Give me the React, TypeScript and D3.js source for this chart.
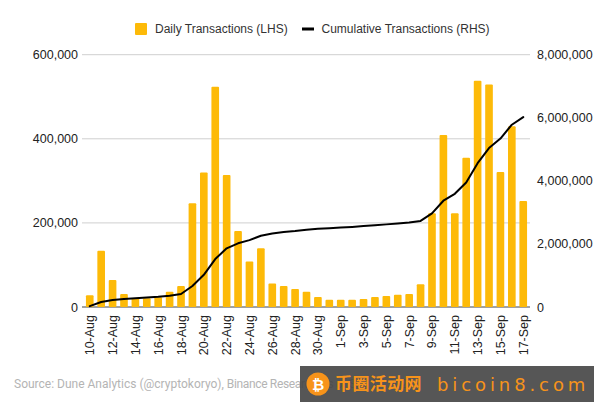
import React from "react";
import * as d3 from "d3";

const augDays = ["10","11","12","13","14","15","16","17","18","19","20","21","22","23","24","25","26","27","28","29","30","31"];
const sepDays = ["1","2","3","4","5","6","7","8","9","10","11","12","13","14","15","16","17"];
const categories = [...augDays.map((d) => `${d}-Aug`), ...sepDays.map((d) => `${d}-Sep`)];

const dailyTransactions = [
  28000, 134000, 64000, 31000, 21000, 21000, 23000, 36000, 50000, 247000, 320000, 524000, 314000,
  181000, 108000, 140000, 56000, 50000, 43000, 36000, 24000, 17000, 17000, 17000, 19000, 24000,
  26000, 29000, 31000, 54000, 223000, 409000, 223000, 355000, 538000, 529000, 321000, 430000, 252000,
];
const cumulativeTransactions = [
  28000, 160000, 222000, 254000, 275000, 300000, 325000, 360000, 413000, 667000, 1020000, 1520000, 1860000,
  2020000, 2120000, 2260000, 2330000, 2380000, 2410000, 2450000, 2480000, 2500000, 2520000, 2540000, 2565000,
  2590000, 2620000, 2650000, 2680000, 2730000, 2970000, 3370000, 3590000, 3950000, 4560000, 5040000, 5340000,
  5780000, 6020000,
];
const leftTicks = [0, 200000, 400000, 600000];
const rightTicks = [0, 2000000, 4000000, 6000000, 8000000];
const legendBar = "Daily Transactions (LHS)";
const legendLine = "Cumulative Transactions (RHS)";
const sourceHead = "Source: Dune Analytics (@cryptokoryo), ";
const sourceTail = "Binance Research, as of Sep 17, 2023";
const brandCn = "币圈活动网";
const brandEn = "bicoin8.com";

const W = 600;
const H = 403;
const plot = { left: 84, right: 529, top: 54.7, bottom: 307 };
const font = "'Liberation Sans', Arial, sans-serif";

export default function App() {
  const x = d3.scaleBand<string>().domain(categories).range([plot.left, plot.right]).paddingInner(0.33).paddingOuter(0.17);
  const yL = d3.scaleLinear().domain([0, 600000]).range([plot.bottom, plot.top]);
  const yR = d3.scaleLinear().domain([0, 8000000]).range([plot.bottom, plot.top]);
  const cx = (c: string) => (x(c) as number) + x.bandwidth() / 2;
  const line = d3
    .line<number>()
    .x((_, i) => cx(categories[i]))
    .y((d) => yR(d));
  const fmt = d3.format(",");

  return (
    <svg
      width={W}
      height={H}
      viewBox={`0 0 ${W} ${H}`}
      style={{ position: "absolute", left: 0, top: 0, background: "#fff" }}
    >
      {/* legend */}
      <rect x={135} y={23} width={12} height={12} rx={1} fill="#FDBA08" />
      <text x={155} y={33} fontFamily={font} fontSize={12} fill="#333">{legendBar}</text>
      <rect x={302} y={27.5} width={12} height={3} fill="#000" />
      <text x={321.5} y={33} fontFamily={font} fontSize={12} fill="#333">{legendLine}</text>

      {/* grid */}
      {leftTicks.map((t) =>
        t === 0 ? null : (
          <line key={t} x1={82} x2={530} y1={yL(t)} y2={yL(t)} stroke="#cfcfcf" strokeWidth={1} />
        )
      )}
      <line x1={82} x2={530} y1={plot.bottom} y2={plot.bottom} stroke="#444" strokeWidth={1} />

      {/* left axis */}
      {leftTicks.map((t) => (
        <text key={t} x={78} y={yL(t) + 4.5} textAnchor="end" fontFamily={font} fontSize={12.5} fill="#222">
          {fmt(t)}
        </text>
      ))}
      {/* right axis */}
      {rightTicks.map((t) => (
        <text key={t} x={537} y={yR(t) + 4.5} fontFamily={font} fontSize={12.5} fill="#222">
          {fmt(t)}
        </text>
      ))}

      {/* bars */}
      {dailyTransactions.map((v, i) => (
        <rect
          key={categories[i]}
          x={x(categories[i])}
          y={yL(v)}
          width={x.bandwidth()}
          height={plot.bottom - yL(v)}
          rx={1}
          fill="#FDBA08"
        />
      ))}

      {/* cumulative line */}
      <path d={line(cumulativeTransactions) as string} fill="none" stroke="#000" strokeWidth={2} strokeLinejoin="round" strokeLinecap="round" />

      {/* x labels */}
      {categories.map((c, i) =>
        i % 2 === 0 ? (
          <text
            key={c}
            transform={`translate(${cx(c) + 4.5},315) rotate(-90)`}
            textAnchor="end"
            fontFamily={font}
            fontSize={12.5}
            fill="#222"
          >
            {c}
          </text>
        ) : null
      )}

      {/* source */}
      <text x={14} y={388} fontFamily="Roboto, 'Noto Sans', sans-serif" fontSize={12} fill="#b4b4b4">
        {sourceHead}
        <tspan letterSpacing={-0.35}>{sourceTail}</tspan>
      </text>

      {/* watermark */}
      <rect x={300} y={366} width={294} height={36} fill="#444" fillOpacity={0.9} />
      <circle cx={318} cy={384} r={11.5} fill="#F7931A" />
      <text x={318} y={389.5} textAnchor="middle" fontFamily={font} fontWeight={700} fontSize={15} fill="#fff">₿</text>
      <text x={335} y={389.5} fontFamily="'Noto Sans CJK SC', sans-serif" fontWeight={700} fontSize={17} letterSpacing={0.4} fill="#F7931A">{brandCn}</text>
      <text x={437} y={391} fontFamily="'DejaVu Sans', sans-serif" fontWeight={400} fontSize={18} letterSpacing={3.9} fill="#F7931A">{brandEn}</text>
    </svg>
  );
}
